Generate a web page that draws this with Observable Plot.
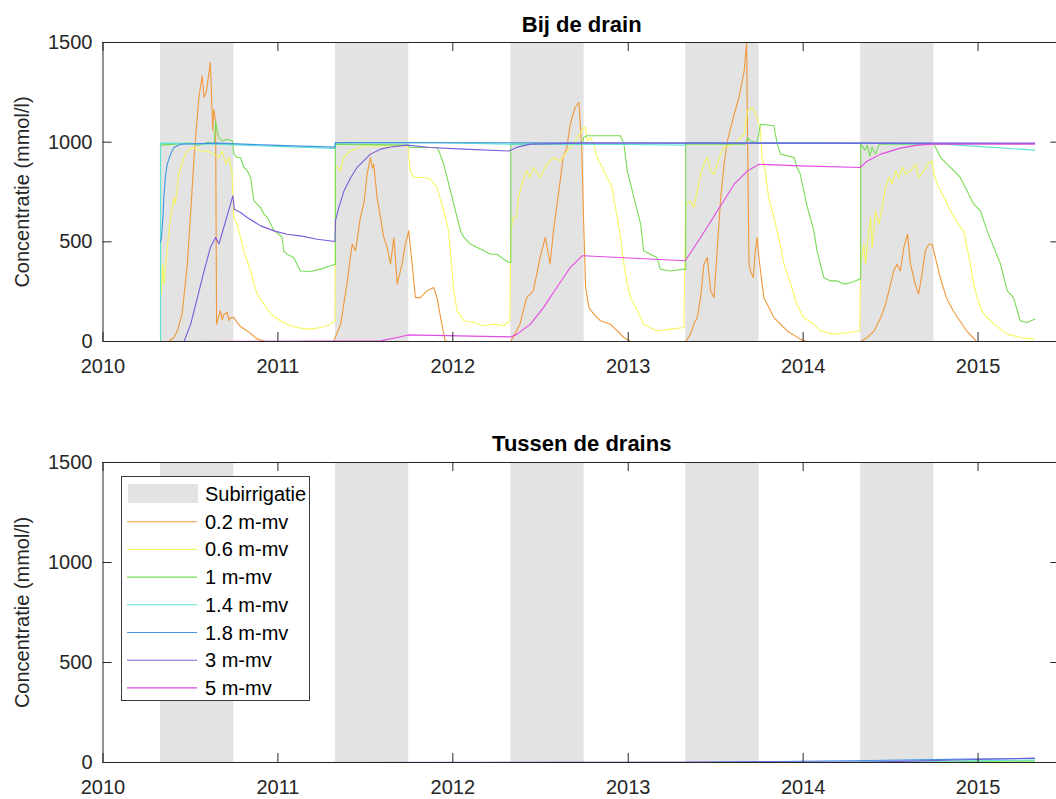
<!DOCTYPE html>
<html>
<head>
<meta charset="utf-8">
<script src="https://cdn.jsdelivr.net/npm/d3@7"></script>
<script src="https://cdn.jsdelivr.net/npm/@observablehq/plot@0.6"></script>
<style>
  body { margin: 0; background: #fff; font-family: "Liberation Sans", Arial, sans-serif; }
  #fig { position: relative; width: 1056px; height: 799px; }
  #fig svg { display: block; }
  #legend { position: absolute; }
</style>
</head>
<body>
<div id="fig"></div>
<script>
// Time is stored as days since 2010-01-01; values in mmol/l.
const depths = ["0.2 m-mv", "0.6 m-mv", "1 m-mv", "1.4 m-mv", "1.8 m-mv", "3 m-mv", "5 m-mv"];
const colors = ["#f0983a", "#f7f760", "#78dc55", "#5de4d0", "#3f95e4", "#7a5cdc", "#e24ae2"];

// Subirrigation periods
const shadeStart = ["2010-05-01", "2011-05-01", "2012-05-01", "2013-05-01", "2014-05-01"];
const shadeEnd   = ["2010-10-01", "2011-10-01", "2012-10-01", "2013-10-01", "2014-10-01"];

const tickYears = [2010, 2011, 2012, 2013, 2014, 2015];
const yTicks = [0, 500, 1000, 1500];

// ---- Bij de drain ----
const drain02 = [[120,0],[137,0],[148,20],[155,53],[165,137],[176,388],[183,650],[190,923],[200,1224],[207,1333],[211,1224],[216,1257],[224,1400],[229,1057],[231,1165],[235,1107],[237,87],[241,120],[245,154],[249,110],[252,135],[259,145],[263,105],[266,120],[273,120],[280,95],[287,75],[301,53],[322,12],[340,0],
  [481,0],[496,87],[510,304],[516,420],[520,488],[527,455],[537,622],[545,700],[551,839],[558,923],[562,870],[565,889],[572,722],[579,622],[586,522],[593,471],[600,388],[607,522],[614,288],[624,388],[631,488],[638,555],[645,388],[652,220],[662,220],[676,254],[690,271],[697,220],[707,87],[714,3],[720,0],
  [851,0],[870,87],[884,220],[898,254],[912,421],[923,522],[933,388],[940,555],[954,806],[960,923],[968,973],[975,1090],[985,1174],[993,1199],[999,973],[1003,600],[1007,271],[1014,170],[1024,137],[1038,104],[1059,87],[1073,53],[1087,20],[1101,0],
  [1216,0],[1226,37],[1233,87],[1240,120],[1247,220],[1254,388],[1261,421],[1268,254],[1275,220],[1282,471],[1289,722],[1296,889],[1303,1006],[1310,1073],[1317,1140],[1327,1224],[1338,1358],[1343,1500],[1346,800],[1348,388],[1351,354],[1357,321],[1361,450],[1365,522],[1368,438],[1372,354],[1379,220],[1386,187],[1400,120],[1428,53],[1455,12],[1469,0],
  [1581,0],[1595,20],[1609,53],[1623,120],[1633,187],[1640,254],[1650,354],[1657,388],[1664,354],[1671,471],[1679,538],[1685,388],[1695,288],[1702,237],[1709,338],[1716,455],[1723,488],[1730,488],[1737,421],[1747,321],[1760,220],[1774,154],[1788,104],[1802,53],[1823,0],[1945,0]];

const drain06 = [[120,230],[122,254],[124,388],[127,288],[134,471],[141,622],[148,722],[151,689],[158,839],[169,923],[175,956],[189,973],[203,956],[217,956],[231,940],[242,923],[249,956],[256,889],[263,923],[269,856],[273,622],[280,589],[287,522],[294,455],[301,405],[308,354],[315,288],[322,237],[336,187],[350,137],[370,104],[391,79],[412,67],[433,62],[454,70],[475,87],[484,104],
  [485,889],[495,856],[502,923],[516,956],[544,981],[636,981],[641,856],[648,823],[669,823],[683,815],[697,772],[711,655],[721,555],[732,254],[739,154],[753,104],[774,95],[795,79],[816,87],[836,79],[849,104],
  [851,555],[856,622],[863,622],[867,722],[874,789],[884,856],[891,823],[898,873],[912,823],[926,889],[940,923],[954,906],[968,956],[982,990],[1003,1073],[1007,1073],[1010,1007],[1017,1023],[1024,990],[1031,923],[1042,873],[1052,823],[1062,772],[1073,622],[1080,522],[1087,388],[1094,288],[1101,220],[1115,154],[1128,87],[1156,53],[1184,62],[1212,70],
  [1216,689],[1226,705],[1233,672],[1240,756],[1247,839],[1254,889],[1261,923],[1268,856],[1275,839],[1282,889],[1289,940],[1296,973],[1317,990],[1338,1040],[1345,1157],[1355,1174],[1365,1124],[1372,1057],[1375,923],[1382,856],[1389,722],[1400,622],[1410,522],[1421,388],[1435,288],[1448,187],[1462,120],[1483,87],[1497,53],[1525,37],[1560,45],[1579,53],
  [1581,388],[1588,488],[1591,388],[1598,555],[1602,622],[1605,471],[1612,655],[1619,589],[1626,672],[1633,772],[1640,823],[1647,790],[1654,856],[1661,823],[1668,873],[1675,839],[1685,856],[1696,889],[1702,823],[1713,856],[1723,898],[1730,906],[1734,839],[1741,789],[1748,756],[1762,689],[1776,622],[1789,572],[1796,555],[1803,471],[1810,388],[1817,288],[1824,220],[1834,154],[1845,120],[1859,87],[1887,37],[1914,20],[1942,12]];

const drain10 = [[120,0],[120,985],[150,990],[180,995],[200,985],[220,1000],[232,990],[235,1107],[238,1057],[242,1023],[249,1006],[259,1015],[270,1006],[273,940],[280,923],[287,923],[294,873],[301,856],[308,823],[315,705],[322,689],[329,672],[336,639],[343,622],[350,589],[357,555],[367,538],[374,522],[377,455],[384,438],[398,421],[405,388],[412,354],[433,351],[454,363],[475,380],[484,388],
  [485,388],[485,990],[636,985],[641,973],[697,973],[701,956],[711,889],[718,823],[725,756],[732,689],[739,622],[746,555],[753,522],[767,488],[781,471],[795,455],[809,438],[822,438],[836,413],[847,396],
  [851,396],[851,990],[1000,990],[1003,1023],[1010,1032],[1080,1032],[1087,990],[1094,856],[1101,789],[1108,722],[1115,655],[1122,589],[1128,455],[1142,438],[1156,421],[1163,363],[1184,354],[1212,363],
  [1216,363],[1216,990],[1340,990],[1345,1023],[1351,1006],[1365,998],[1372,1090],[1400,1082],[1407,990],[1414,940],[1442,923],[1448,873],[1455,839],[1469,680],[1483,560],[1490,455],[1504,321],[1518,304],[1532,304],[1546,288],[1560,295],[1580,313],
  [1581,313],[1581,990],[1590,960],[1595,985],[1600,930],[1605,975],[1612,940],[1620,990],[1734,990],[1741,956],[1748,923],[1762,889],[1776,856],[1789,823],[1803,756],[1817,689],[1831,655],[1845,555],[1859,471],[1873,388],[1887,254],[1900,220],[1914,104],[1928,95],[1944,112]];

const drain14 = [[120,0],[120,995],[240,990],[350,980],[484,968],[485,998],[700,997],[851,990],[1100,988],[1215,985],[1216,998],[1581,995],[1750,990],[1850,975],[1944,960]];

const drain18 = [[120,500],[122,522],[125,622],[127,722],[130,823],[134,889],[141,940],[148,973],[162,990],[240,995],[350,985],[484,975],[485,998],[1000,997],[1944,993]];

const drain3 = [[120,0],[169,0],[183,87],[197,220],[211,354],[224,471],[235,522],[242,490],[252,572],[262,655],[271,731],[274,664],[287,647],[301,622],[329,580],[357,555],[384,538],[412,530],[447,513],[484,502],
  [485,605],[492,672],[503,756],[517,823],[530,873],[544,906],[558,940],[579,965],[600,976],[635,985],[683,973],[753,965],[847,956],[864,975],[892,990],[1000,995],[1944,995]];

const drain5 = [[120,0],[579,3],[614,20],[636,33],[851,23],[864,37],[892,87],[919,170],[947,271],[975,371],[1000,430],[1003,430],[1215,405],[1247,522],[1282,655],[1317,789],[1345,856],[1369,889],[1456,881],[1580,873],[1595,906],[1623,940],[1664,970],[1699,985],[1734,990],[1944,990]];

// ---- Tussen de drains ----
const between02 = [[120,0],[1945,0]];
const between06 = [[120,0],[1500,0],[1944,3]];
const between10 = [[120,0],[1600,0],[1944,8]];
const between14 = [[120,0],[1500,0],[1944,12]];
const between18 = [[120,0],[1200,0],[1400,5],[1600,10],[1800,17],[1944,20]];
const between3  = [[120,0],[1600,2],[1800,14],[1944,22]];
const between5  = [[120,0],[1945,0]];

const origin = Date.UTC(2010, 0, 1);
const day = d => new Date(origin + d * 864e5);
const rows = pairs => pairs.map(([d, v]) => ({date: day(d), value: v}));

const xStart = day(0), xEnd = day(1997);
const axisColor = "#262626";
const shade = shadeStart.map((s, i) => ({x1: new Date(s), x2: new Date(shadeEnd[i])}));
const tickDates = tickYears.map(y => new Date(Date.UTC(y, 0, 1)));

function panel(title, series, height, mt, mb) {
  return Plot.plot({
    width: 1056, height,
    marginLeft: 102.5, marginRight: 0, marginTop: mt, marginBottom: mb,
    style: {fontFamily: "'Liberation Sans', Arial, sans-serif", fontSize: "20px", color: axisColor, background: "#fff", overflow: "visible"},
    x: {type: "utc", domain: [xStart, xEnd], range: [102.5, 1059.5]},
    y: {domain: [0, 1500]},
    marks: [
      Plot.rect(shade, {x1: "x1", x2: "x2", y1: 0, y2: 1500, fill: "#e3e3e3"}),
      ...series.map((s, i) => Plot.line(rows(s), {x: "date", y: "value", stroke: colors[i], strokeWidth: 1.1})),
      Plot.ruleY([0, 1500], {stroke: axisColor, strokeWidth: 1}),
      Plot.ruleX([xStart], {stroke: axisColor, strokeWidth: 1}),
      Plot.ruleX(tickDates, {y1: 0, y2: 45, stroke: axisColor}),
      Plot.ruleX(tickDates, {y1: 1455, y2: 1500, stroke: axisColor}),
      Plot.ruleY(yTicks, {x1: () => xStart, x2: () => day(19), stroke: axisColor}),
      Plot.ruleY(yTicks, {x1: () => day(1978), x2: () => xEnd, stroke: axisColor}),
      Plot.axisX({ticks: tickDates, tickFormat: d3.utcFormat("%Y"), tickSize: 0, tickPadding: 17, label: null}),
      Plot.axisY({ticks: yTicks, tickFormat: d3.format("d"), tickSize: 0, tickPadding: 10.5, label: null}),
      Plot.text([title], {frameAnchor: "top", dy: mt === 42 ? -18 : -19, dx: 2, lineAnchor: "middle", textAnchor: "middle", fontWeight: "bold", fontSize: 22, fill: "#000"}),
      Plot.text(["Concentratie (mmol/l)"], {frameAnchor: "left", rotate: -90, dx: -80.5, textAnchor: "middle", lineAnchor: "middle", fontSize: 20, fill: axisColor})
    ]
  });
}

const fig = document.getElementById("fig");
fig.append(panel("Bij de drain", [drain02, drain06, drain10, drain14, drain18, drain3, drain5], 400, 42, 59));
fig.append(panel("Tussen de drains", [between02, between06, between10, between14, between18, between3, between5], 399, 62, 37));

// Legend inside the lower panel
const lg = d3.create("svg")
  .attr("id", "legend")
  .attr("width", 189).attr("height", 225)
  .style("left", "121px").style("top", "476px")
  .style("font-family", "'Liberation Sans', Arial, sans-serif")
  .style("font-size", "20px");
lg.append("rect").attr("x", 0.5).attr("y", 0.5).attr("width", 188).attr("height", 224)
  .attr("fill", "#fff").attr("stroke", "#3a3a3a");
const rowY = i => 18 + i * 27.7;
lg.append("rect").attr("x", 7).attr("y", 8).attr("width", 70).attr("height", 19).attr("fill", "#e3e3e3");
lg.append("text").attr("x", 84).attr("y", rowY(0)).attr("dy", "0.35em").attr("fill", "#000").text("Subirrigatie");
depths.forEach((name, i) => {
  const y = rowY(i + 1);
  lg.append("line").attr("x1", 6).attr("x2", 76).attr("y1", y).attr("y2", y).attr("stroke", colors[i]).attr("stroke-width", 1.1);
  lg.append("text").attr("x", 84).attr("y", y).attr("dy", "0.35em").attr("fill", "#000").text(name);
});
fig.append(lg.node());
</script>
</body>
</html>
